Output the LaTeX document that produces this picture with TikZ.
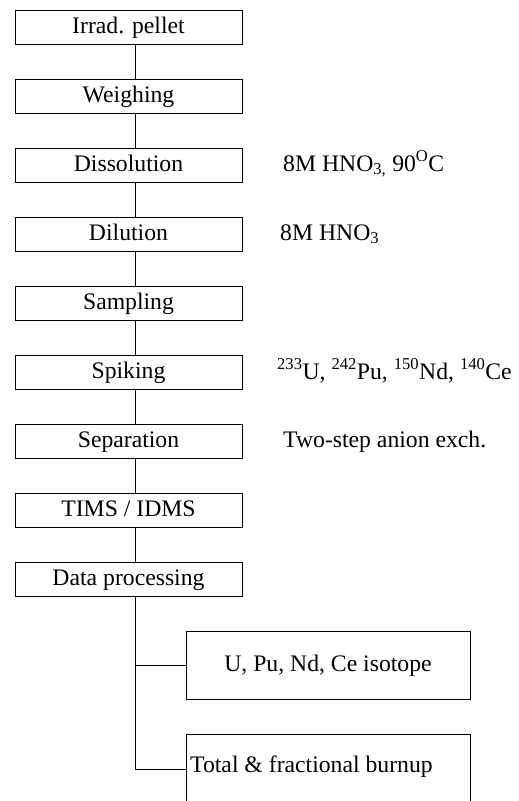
\documentclass[tikz,border=0pt]{standalone}
\usepackage{fontspec}
\setmainfont{Liberation Serif}
\begin{document}
\begin{tikzpicture}[x=1pt,y=-1pt,
  bigfont/.style={font=\fontsize{23.7}{28}\selectfont},
  stepbox/.style={draw, line width=0.9pt, minimum width=227pt, minimum height=34pt, inner sep=0pt, text height=17pt, text depth=5pt, bigfont},
  note/.style={anchor=base west, inner sep=0pt, bigfont},
  conn/.style={line width=0.9pt}]
\useasboundingbox (0,0) rectangle (519,801);
\clip (0,0) rectangle (519,801);
\foreach \n/\t [count=\i from 0] in {b1/Irrad. pellet, b2/Weighing, b3/Dissolution, b4/Dilution, b5/Sampling, b6/Spiking, b7/Separation, b8/{TIMS / IDMS}, b9/Data processing}
  \node[stepbox] (\n) at (128.5, {27.5+69*\i}) {\t};
\foreach \a/\b in {b1/b2,b2/b3,b3/b4,b4/b5,b5/b6,b6/b7,b7/b8,b8/b9}
  \draw[conn] ([xshift=6.5pt]\a.south) -- ([xshift=6.5pt]\b.north);
\node[note] (n3) at (283,171) {8M HNO\textsubscript{3,} 90\textsuperscript{O}C};
\node[note] (n4) at (280,240) {8M HNO\textsubscript{3}};
\node[note] (n6) at (277,379) {\textsuperscript{233}U, \textsuperscript{242}Pu, \textsuperscript{150}Nd, \textsuperscript{140}Ce};
\node[note] (n7) at (283,447) {Two-step anion exch.};
\node[draw, line width=0.9pt, minimum width=284pt, minimum height=68pt, inner sep=0pt, text height=17pt, text depth=4pt, bigfont] (iso) at (328,665) {U, Pu, Nd, Ce isotope};
\node[draw, line width=0.9pt, minimum width=284pt, minimum height=100pt, inner sep=0pt, anchor=north west] (tot) at (186,734) {};
\node[anchor=base west, inner sep=0pt, bigfont] (tottext) at (190,772) {Total \& fractional burnup};
\coordinate (trunk) at ([xshift=6.5pt]b9.south);
\draw[conn] (trunk) |- (tot.west |- 0,769);
\draw[conn] (trunk |- iso.west) -- (iso.west);
\end{tikzpicture}
\end{document}
